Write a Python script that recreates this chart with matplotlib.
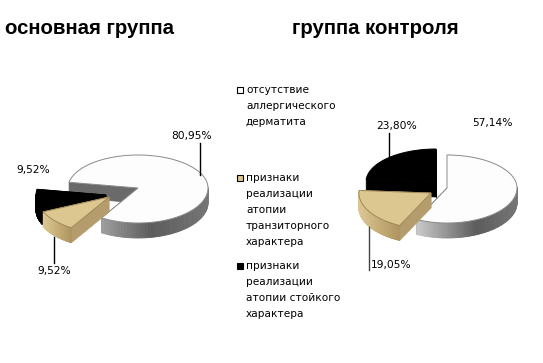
import numpy as np
import matplotlib
matplotlib.use("Agg")
import matplotlib.pyplot as plt
from matplotlib.patches import Polygon

TITLES = ["основная группа", "группа контроля"]
LABELS = ["отсутствие\nаллергического\nдерматита",
          "признаки\nреализации\nатопии\nтранзиторного\nхарактера",
          "признаки\nреализации\nатопии стойкого\nхарактера"]
VALUES_MAIN = [80.95, 9.52, 9.52]
VALUES_CONTROL = [57.14, 19.05, 23.80]
TEXT_MAIN = ["80,95%", "9,52%", "9,52%"]
TEXT_CONTROL = ["57,14%", "19,05%", "23,80%"]

RX, RY_BACK, RY_FRONT, DEPTH = 70, 33, 35, 15
SCALE = [1.0, 1.03, 1.0]
TOP = ["#fdfdfd", "#dcc791", "#000000"]
CUT = ["#6a6a6a", "#b59c6c", "#000000"]
WALL_STOPS = [((0.80, 0.80, 0.80), (0.36, 0.36, 0.36), (0.46, 0.46, 0.46)),
              ((0.86, 0.78, 0.58), (0.76, 0.66, 0.45), (0.68, 0.58, 0.38)),
              ((0, 0, 0), (0, 0, 0), (0, 0, 0))]
OUTLINE = ["#8a8a8a", "#a08a5a", "#000000"]

fig = plt.figure(figsize=(5.43, 3.63), dpi=100)
ax = fig.add_axes([0, 0, 1, 1])
ax.set_xlim(0, 543)
ax.set_ylim(363, 0)
ax.axis("off")


def point(cx, cy, ang, s=1.0):
    a = np.radians(ang)
    sn = np.sin(a)
    return cx + s * RX * np.cos(a), cy - s * np.where(sn > 0, RY_BACK, RY_FRONT) * sn


def draw_slice(i, cx, cy, a0, a1, z):
    # a0 > a1, going clockwise
    s = SCALE[i]
    angs = np.linspace(a0, a1, 120)
    xs, ys = point(cx, cy, angs, s)
    # cut faces first, they sit behind the top
    for a in (a0, a1):
        px, py = point(cx, cy, a, s)
        ax.add_patch(Polygon([(cx, cy), (px, py), (px, py + DEPTH), (cx, cy + DEPTH)],
                             fc=CUT[i], ec=CUT[i], lw=0.5, zorder=z))
    # outer wall, only the part facing the viewer
    stops = WALL_STOPS[i]
    for k in range(len(angs) - 1):
        if np.sin(np.radians((angs[k] + angs[k + 1]) / 2)) > 0.02:
            continue
        t = (xs[k] - xs.min()) / (xs.max() - xs.min())
        if t < 0.6:
            c = t / 0.6
            col = [stops[0][j] + (stops[1][j] - stops[0][j]) * c for j in range(3)]
        else:
            c = (t - 0.6) / 0.4
            col = [stops[1][j] + (stops[2][j] - stops[1][j]) * c for j in range(3)]
        ax.add_patch(Polygon([(xs[k], ys[k]), (xs[k + 1], ys[k + 1]),
                              (xs[k + 1], ys[k + 1] + DEPTH), (xs[k], ys[k] + DEPTH)],
                             fc=col, ec=col, lw=0.6, zorder=z))
    pts = [(cx, cy)] + list(zip(xs, ys))
    ax.add_patch(Polygon(pts, fc=TOP[i], ec=OUTLINE[i], lw=0.7, zorder=z + 0.5))


def draw_pie(values, start, centers, order):
    angles = []
    a = start
    for v in values:
        angles.append((a, a - v / sum(values) * 360))
        a = angles[-1][1]
    for n, i in enumerate(order):
        draw_slice(i, centers[i][0], centers[i][1], angles[i][0], angles[i][1], 2 + n)


draw_pie(VALUES_MAIN, 170, [(138, 188), (109, 197), (106, 195)], [0, 2, 1])
draw_pie(VALUES_CONTROL, 90, [(447, 188), (431, 193), (436, 182)], [0, 2, 1])

# titles
ax.text(5, 28, TITLES[0], fontsize=14.7, fontweight="bold", family="Liberation Sans", va="center", color="black")
ax.text(292, 28, TITLES[1], fontsize=14.7, fontweight="bold", family="Liberation Sans", va="center", color="black")

# percent labels with leader lines
LFONT = dict(fontsize=7.7, family="DejaVu Sans", va="center", ha="center", color="black", zorder=10)
ax.text(192, 136, TEXT_MAIN[0], **LFONT)
ax.text(33, 170, TEXT_MAIN[2], **LFONT)
ax.text(54, 271, TEXT_MAIN[1], **LFONT)
ax.text(492, 123, TEXT_CONTROL[0], **LFONT)
ax.text(391, 265, TEXT_CONTROL[1], **LFONT)
ax.text(397, 126, TEXT_CONTROL[2], **LFONT)
ax.plot([200, 200], [143, 175], color="black", lw=1, zorder=10)
ax.plot([54, 54], [237, 263], color="black", lw=1, zorder=10)
ax.plot([389, 389], [133, 158], color="black", lw=1, zorder=10)
ax.plot([369, 369], [227, 270], color="#444444", lw=1, zorder=10)

# legend
LEG_Y = [90, 178, 266]
LEG_FILL = ["#ffffff", "#dcc791", "#000000"]
for i, lab in enumerate(LABELS):
    ax.add_patch(Polygon([(237, LEG_Y[i] - 3), (243, LEG_Y[i] - 3), (243, LEG_Y[i] + 3), (237, LEG_Y[i] + 3)],
                         fc=LEG_FILL[i], ec="black", lw=0.8, zorder=10))
    for k, line in enumerate(lab.split("\n")):
        ax.text(246, LEG_Y[i] + 16 * k, line, fontsize=7.6, family="DejaVu Sans", va="center", color="black")

fig.savefig("out.png", dpi=100)
